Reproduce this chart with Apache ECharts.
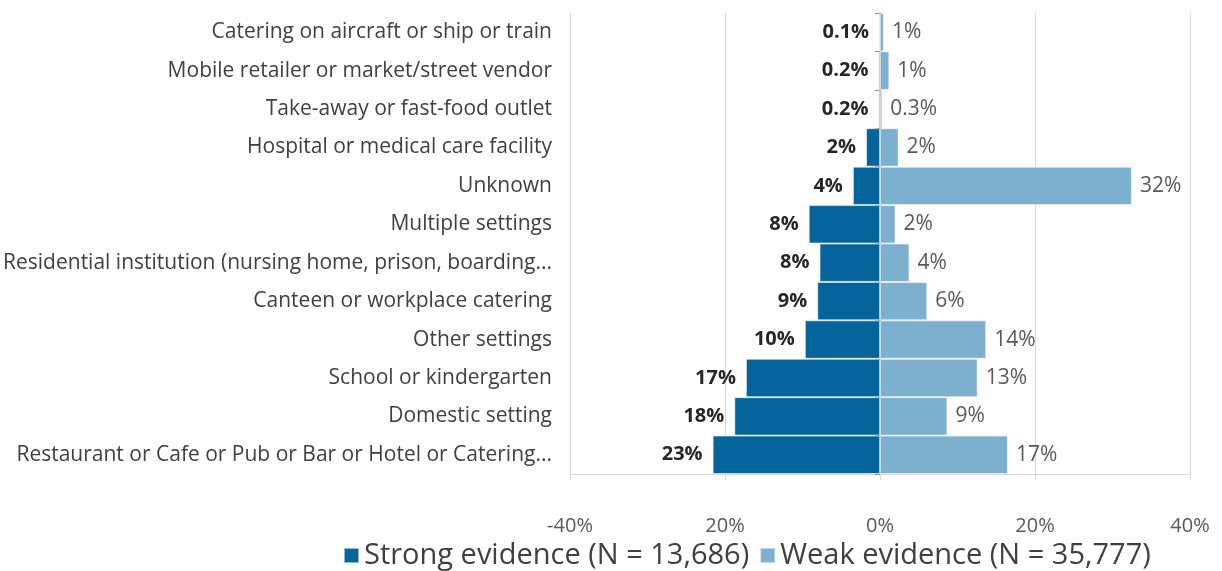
<!DOCTYPE html>
<html>
<head>
<meta charset="utf-8">
<script src="https://cdn.jsdelivr.net/npm/echarts@6/dist/echarts.min.js"></script>
<style>
  html, body { margin: 0; padding: 0; background: #fff; }
  #chart { width: 1222px; height: 571px; }
</style>
</head>
<body>
<div id="chart"></div>
<script>
// setting categories, top to bottom
var categories = [
    "Catering on aircraft or ship or train",
    "Mobile retailer or market/street vendor",
    "Take-away or fast-food outlet",
    "Hospital or medical care facility",
    "Unknown",
    "Multiple settings",
    "Residential institution (nursing home, prison, boarding...",
    "Canteen or workplace catering",
    "Other settings",
    "School or kindergarten",
    "Domestic setting",
    "Restaurant or Cafe or Pub or Bar or Hotel or Catering..."
];
// bar lengths (%)
var strongValues = [0.1, 0.2, 0.2, 1.8, 3.5, 9.2, 7.8, 8.1, 9.7, 17.3, 18.8, 21.6];
var weakValues = [0.5, 1.2, 0.3, 2.4, 32.5, 2.0, 3.8, 6.1, 13.7, 12.6, 8.7, 16.5];
// labels printed next to the bars
var strongLabels = ["0.1%", "0.2%", "0.2%", "2%", "4%", "8%", "8%", "9%", "10%", "17%", "18%", "23%"];
var weakLabels = ["1%", "1%", "0.3%", "2%", "32%", "2%", "4%", "6%", "14%", "13%", "9%", "17%"];
// x axis ticks
var tickValues = [-40, -20, 0, 20, 40];
var tickLabels = ["-40%", "20%", "0%", "20%", "40%"];
var seriesNames = ["Strong evidence (N = 13,686)", "Weak evidence (N = 35,777)"];

var font = "'Open Sans', Lato, sans-serif";

var chart = echarts.init(document.getElementById("chart"));
var option = {
    backgroundColor: "#ffffff",
    animation: false,
    textStyle: { fontFamily: font },
    legend: {
        left: 343,
        top: 541,
        padding: 0,
        icon: "rect",
        itemWidth: 15,
        itemHeight: 15,
        itemGap: 10,
        textStyle: { color: "#404040", fontSize: 29, fontFamily: font },
        data: seriesNames
    },
    grid: {
        left: 570,
        right: 32,
        top: 13,
        bottom: 97
    },
    xAxis: {
        type: "value",
        min: -40,
        max: 40,
        interval: 20,
        axisLine: { show: true, lineStyle: { color: "#d9d9d9", width: 1 } },
        axisTick: { show: true, length: 6, lineStyle: { color: "#d9d9d9" } },
        splitLine: { show: true, lineStyle: { color: "#d9d9d9", width: 1 } },
        axisLabel: {
            margin: 42,
            color: "#595959",
            fontSize: 20,
            formatter: function (v) {
                var i = tickValues.indexOf(v);
                return i >= 0 ? tickLabels[i] : "";
            }
        }
    },
    yAxis: [
        {
            type: "category",
            inverse: true,
            data: categories,
            axisLine: { show: false, onZero: false },
            axisTick: { show: false },
            axisLabel: { margin: 18, color: "#404040", fontSize: 21 }
        },
        {
            // zero line with small ticks
            type: "category",
            inverse: true,
            position: "left",
            data: categories,
            axisLine: { show: true, onZero: true, lineStyle: { color: "#8c8c8c", width: 1.5 } },
            axisTick: { show: true, length: 5, lineStyle: { color: "#8c8c8c" } },
            axisLabel: { show: false }
        }
    ],
    series: [
        {
            name: seriesNames[0],
            type: "bar",
            stack: "total",
            barCategoryGap: "0%",
            data: strongValues.map(function (v) { return -v; }),
            itemStyle: { color: "#04649b", borderColor: "rgba(255,255,255,0.55)", borderWidth: 1 },
            label: {
                show: true,
                position: "left",
                distance: 10,
                color: "#262626",
                fontSize: 20,
                fontWeight: "bold",
                formatter: function (p) { return strongLabels[p.dataIndex]; }
            }
        },
        {
            name: seriesNames[1],
            type: "bar",
            stack: "total",
            barCategoryGap: "0%",
            data: weakValues,
            itemStyle: { color: "#7db0cf", borderColor: "rgba(255,255,255,0.55)", borderWidth: 1 },
            label: {
                show: true,
                position: "right",
                distance: 8,
                color: "#595959",
                fontSize: 21,
                formatter: function (p) { return weakLabels[p.dataIndex]; }
            }
        }
    ]
};
chart.setOption(option);
</script>
</body>
</html>
